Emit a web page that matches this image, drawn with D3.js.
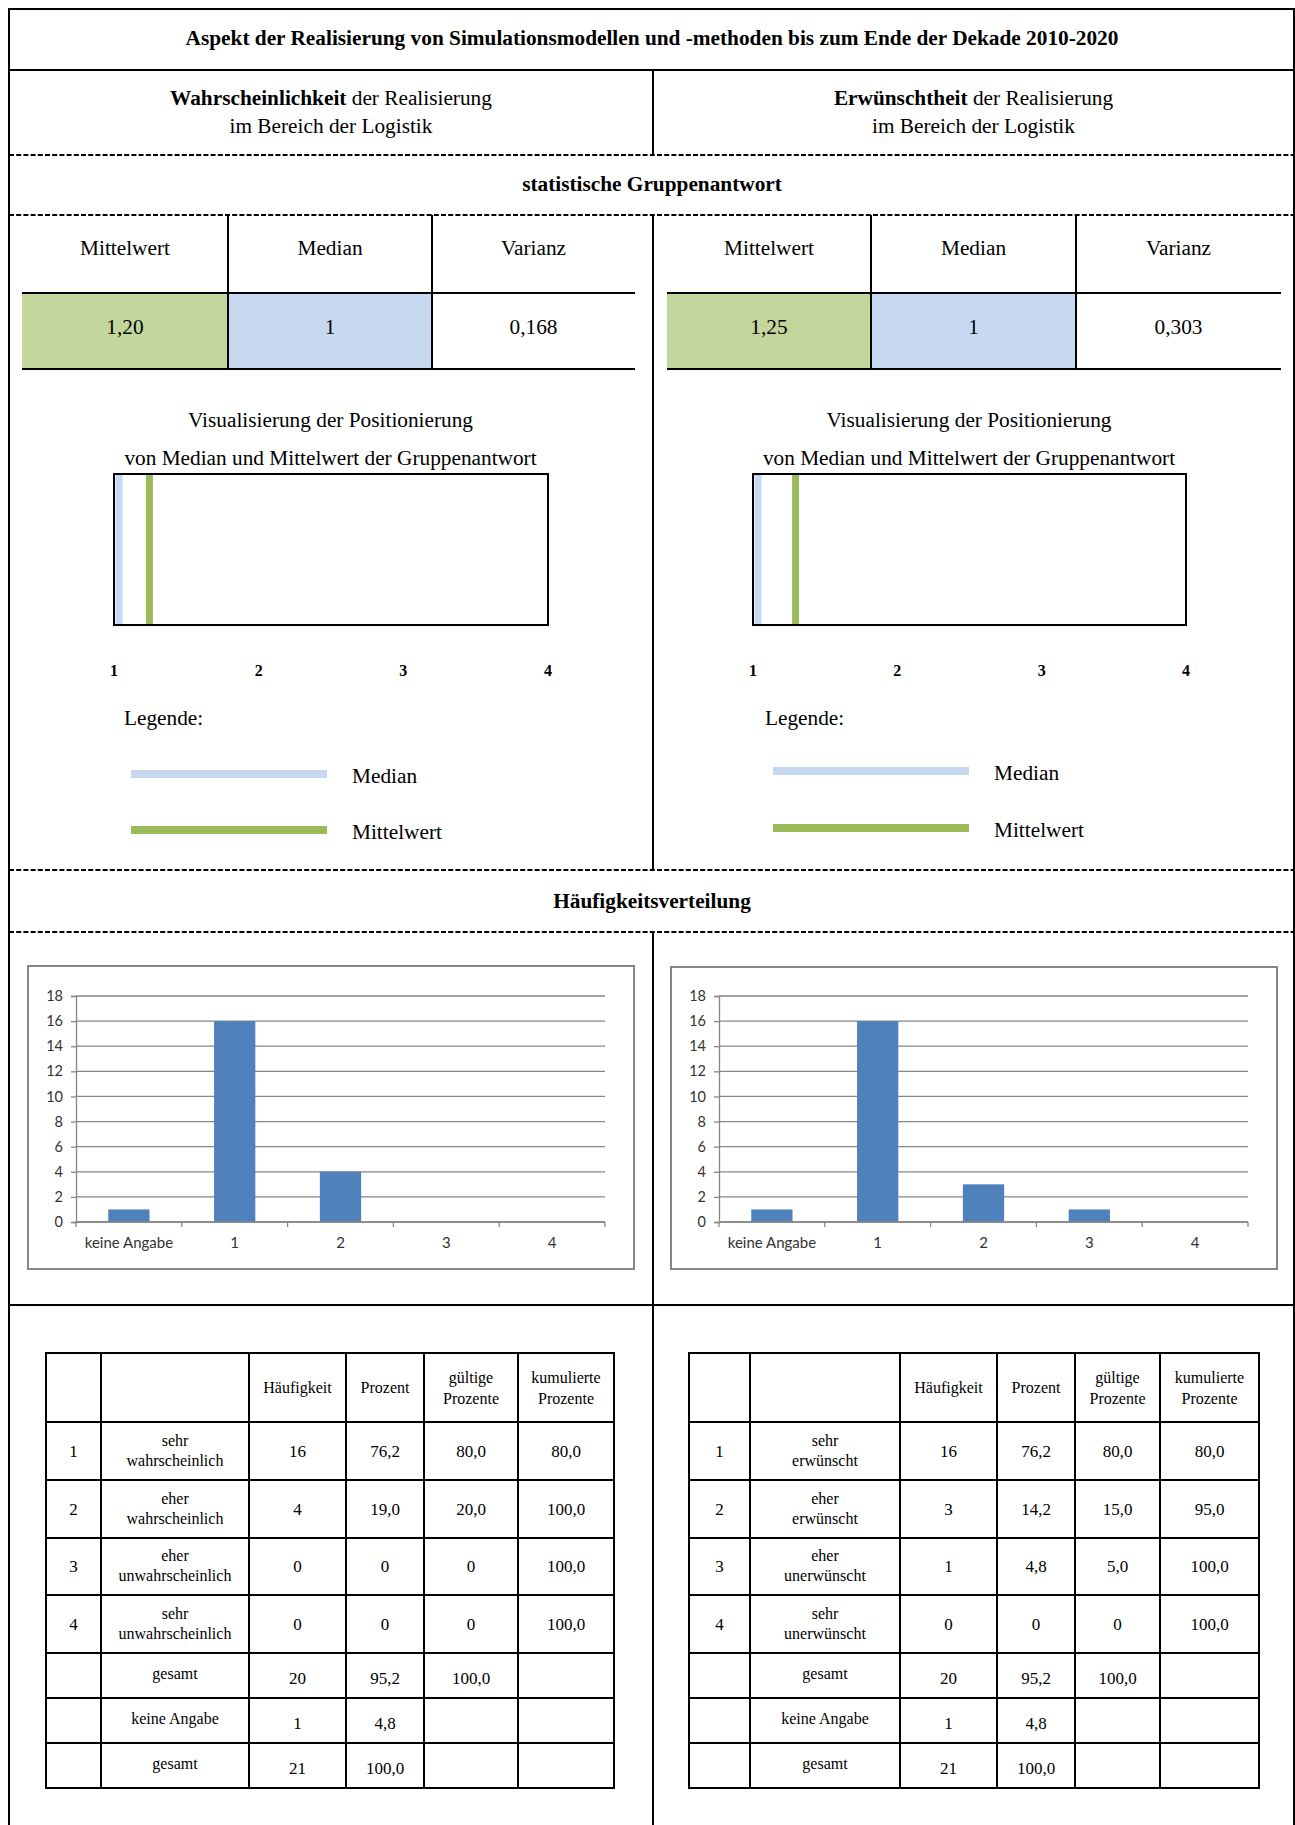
<!DOCTYPE html>
<html>
<head>
<meta charset="utf-8">
<script src="https://cdn.jsdelivr.net/npm/d3@7"></script>
<style>
  html, body { margin: 0; padding: 0; background: #fff; }
  svg { display: block; }
  .serif { font-family: "Liberation Serif", "Times New Roman", serif; fill: #000; }
  .chartfont { font-family: Lato, "Liberation Sans", sans-serif; fill: #333; }
</style>
</head>
<body>
<script>
// ---------------- DATA ----------------
const mainTitle = "Aspekt der Realisierung von Simulationsmodellen und -methoden bis zum Ende der Dekade 2010-2020";
const panelBold = ["Wahrscheinlichkeit", "Erwünschtheit"];
const panelRest = " der Realisierung";
const panelSub = "im Bereich der Logistik";
const sectionTitles = ["statistische Gruppenantwort", "Häufigkeitsverteilung"];

const statsHeaders = ["Mittelwert", "Median", "Varianz"];
const statsLeft = ["1,20", "1", "0,168"];
const statsRight = ["1,25", "1", "0,303"];

const vizTitle1 = "Visualisierung der Positionierung";
const vizTitle2 = "von Median und Mittelwert der Gruppenantwort";
const scaleTicks = [1, 2, 3, 4];
const medianValues = [1, 1];
const meanValues = [1.20, 1.25];
const legendLabels = ["Median", "Mittelwert"];

const freqCategories = ["keine Angabe", "1", "2", "3", "4"];
const freqLeft = [1, 16, 4, 0, 0];
const freqRight = [1, 16, 3, 1, 0];
const yTicks = [0, 2, 4, 6, 8, 10, 12, 14, 16, 18];

const tableHeaders = ["", "", "Häufigkeit", "Prozent", "gültige\nProzente", "kumulierte\nProzente"];
const rowCodes = ["1", "2", "3", "4", "", "", ""];
const labelsLeft = ["sehr\nwahrscheinlich", "eher\nwahrscheinlich", "eher\nunwahrscheinlich", "sehr\nunwahrscheinlich", "gesamt", "keine Angabe", "gesamt"];
const labelsRight = ["sehr\nerwünscht", "eher\nerwünscht", "eher\nunerwünscht", "sehr\nunerwünscht", "gesamt", "keine Angabe", "gesamt"];
const haeufLeft = ["16", "4", "0", "0", "20", "1", "21"];
const prozLeft = ["76,2", "19,0", "0", "0", "95,2", "4,8", "100,0"];
const gueltLeft = ["80,0", "20,0", "0", "0", "100,0", "", ""];
const kumLeft = ["80,0", "100,0", "100,0", "100,0", "", "", ""];
const haeufRight = ["16", "3", "1", "0", "20", "1", "21"];
const prozRight = ["76,2", "14,2", "4,8", "0", "95,2", "4,8", "100,0"];
const gueltRight = ["80,0", "15,0", "5,0", "0", "100,0", "", ""];
const kumRight = ["80,0", "95,0", "100,0", "100,0", "", "", ""];

// ---------------- LAYOUT ----------------
const W = 1295, H = 1825;
const L = 9, R = 1294, DIV = 653;
const FS = 21.3;
const GREEN = "#C3D69B", BLUE = "#C6D9F1", MEANC = "#9BBB59", MEDC = "#C6D9F1", BAR = "#4F81BD", GRID = "#868686";

const svg = d3.select("body").append("svg").attr("width", W).attr("height", H);

function line(x1, y1, x2, y2, opts = {}) {
  return svg.append("line").attr("x1", x1).attr("y1", y1).attr("x2", x2).attr("y2", y2)
    .attr("stroke", opts.color || "#000").attr("stroke-width", opts.w || 2)
    .attr("stroke-dasharray", opts.dash || null);
}
function text(x, y, s, size, opts = {}) {
  return svg.append("text").attr("class", opts.cls || "serif")
    .attr("x", x).attr("y", y).attr("dy", "0.35em")
    .attr("text-anchor", opts.anchor || "middle")
    .attr("font-size", size).attr("font-weight", opts.bold ? "bold" : null)
    .text(s);
}
function multiText(x, y, s, size, lh) {
  const parts = s.split("\n");
  const t = svg.append("text").attr("class", "serif").attr("text-anchor", "middle").attr("font-size", size);
  parts.forEach((p, i) => {
    t.append("tspan").attr("x", x).attr("y", y + (i - (parts.length - 1) / 2) * lh).attr("dy", "0.35em").text(p);
  });
}

// Outer frame and grid lines
line(L, 9, R, 9);
line(L, 8, L, H);
line(R, 8, R, H);
line(L, 70, R, 70);
[155, 215, 870, 932].forEach(y => line(L, y, R, y, { dash: "5,2.2" }));
line(L, 1305, R, 1305);
[[70, 155], [215, 870], [932, H]].forEach(([a, b]) => line(DIV, a, DIV, b));

// Titles
text(652, 38, mainTitle, FS, { bold: true });
const panelCx = [331, 973.5];
panelCx.forEach((cx, i) => {
  const t = svg.append("text").attr("class", "serif").attr("x", cx).attr("y", 98).attr("dy", "0.35em")
    .attr("text-anchor", "middle").attr("font-size", FS);
  t.append("tspan").attr("font-weight", "bold").text(panelBold[i]);
  t.append("tspan").text(panelRest);
  text(cx, 126, panelSub, FS);
});
text(652, 184, sectionTitles[0], FS, { bold: true });
text(652, 901, sectionTitles[1], FS, { bold: true });

// Stats tables
const statsCols = [[22, 228, 432, 635], [667, 871, 1076, 1281]];
const statsVals = [statsLeft, statsRight];
statsCols.forEach((cols, p) => {
  svg.append("rect").attr("x", cols[0]).attr("y", 293).attr("width", cols[1] - cols[0]).attr("height", 369 - 293).attr("fill", GREEN);
  svg.append("rect").attr("x", cols[1]).attr("y", 293).attr("width", cols[2] - cols[1]).attr("height", 369 - 293).attr("fill", BLUE);
  line(cols[0], 293, cols[3], 293);
  line(cols[0], 369, cols[3], 369);
  line(cols[1], 215, cols[1], 369);
  line(cols[2], 215, cols[2], 369);
  statsHeaders.forEach((h, i) => {
    const cx = (cols[i] + cols[i + 1]) / 2;
    text(cx, 248, h, FS);
    text(cx, 327, statsVals[p][i], FS);
  });
});

// Visualisation of positioning
const vizPanels = [
  { box: [114, 548], legX: 124, legLine: [131, 327], legText: 352, legY: [774, 830] },
  { box: [753, 1186], legX: 765, legLine: [773, 969], legText: 994, legY: [771, 828] }
];
vizPanels.forEach((vp, p) => {
  const cx = (vp.box[0] + vp.box[1]) / 2;
  text(cx - 0.5, 420, vizTitle1, FS);
  text(cx - 0.5, 458, vizTitle2, FS);
  const x = d3.scaleLinear().domain([1, 4]).range(vp.box);
  const top = 474, bot = 625;
  svg.append("rect").attr("x", x(medianValues[p]) + 1.5).attr("y", top).attr("width", 7).attr("height", bot - top).attr("fill", MEDC);
  svg.append("rect").attr("x", x(meanValues[p]) + 3).attr("y", top).attr("width", 7).attr("height", bot - top).attr("fill", MEANC);
  svg.append("rect").attr("x", vp.box[0]).attr("y", top).attr("width", vp.box[1] - vp.box[0]).attr("height", bot - top)
    .attr("fill", "none").attr("stroke", "#000").attr("stroke-width", 2);
  scaleTicks.forEach(v => text(x(v), 670, String(v), 16, { bold: true }));
  text(vp.legX, 718, "Legende:", FS, { anchor: "start" });
  [MEDC, MEANC].forEach((c, i) => {
    svg.append("rect").attr("x", vp.legLine[0]).attr("y", vp.legY[i] - 4).attr("width", vp.legLine[1] - vp.legLine[0]).attr("height", 8).attr("fill", c);
    text(vp.legText, vp.legY[i] + 2, legendLabels[i], FS, { anchor: "start" });
  });
});

// Bar charts
const chartPanels = [
  { box: [28, 966, 606, 303], plot: [76, 605], data: freqLeft },
  { box: [671, 967, 606, 302], plot: [719, 1248], data: freqRight }
];
chartPanels.forEach(cp => {
  svg.append("rect").attr("x", cp.box[0]).attr("y", cp.box[1]).attr("width", cp.box[2]).attr("height", cp.box[3])
    .attr("fill", "#fff").attr("stroke", GRID).attr("stroke-width", 2);
  const x = d3.scaleBand().domain(freqCategories).range(cp.plot).padding(0);
  const y = d3.scaleLinear().domain([0, 18]).range([1222, 996]);
  const g = svg.append("g");
  g.selectAll("line.grid").data(yTicks).join("line")
    .attr("x1", cp.plot[0]).attr("x2", cp.plot[1]).attr("y1", d => y(d)).attr("y2", d => y(d))
    .attr("stroke", GRID).attr("stroke-width", 1.3);
  const ya = g.append("g").attr("transform", `translate(${cp.plot[0]},0)`)
    .call(d3.axisLeft(y).tickValues(yTicks).tickSize(5).tickPadding(8));
  ya.attr("font-family", null).attr("font-size", null);
  ya.select(".domain").attr("stroke", GRID).attr("stroke-width", 1.3);
  ya.selectAll(".tick line").attr("stroke", GRID).attr("stroke-width", 1.3);
  ya.selectAll(".tick text").attr("class", "chartfont").attr("font-size", 14.5).attr("fill", "#333");
  const bw = x.bandwidth();
  g.selectAll("rect.bar").data(cp.data).join("rect")
    .attr("x", (d, i) => x(freqCategories[i]) + bw * 0.305)
    .attr("width", bw * 0.39)
    .attr("y", d => y(d)).attr("height", d => y(0) - y(d))
    .attr("fill", BAR);
  const bounds = freqCategories.map(c => x(c)).concat([cp.plot[1]]);
  g.selectAll("line.xt").data(bounds).join("line")
    .attr("x1", d => d).attr("x2", d => d).attr("y1", y(0)).attr("y2", y(0) + 5)
    .attr("stroke", GRID).attr("stroke-width", 1.3);
  g.append("line").attr("x1", cp.plot[0]).attr("x2", cp.plot[1]).attr("y1", y(0)).attr("y2", y(0))
    .attr("stroke", GRID).attr("stroke-width", 1.3);
  g.selectAll("text.xl").data(freqCategories).join("text")
    .attr("class", "chartfont").attr("font-size", 15).attr("text-anchor", "middle")
    .attr("x", d => x(d) + bw / 2).attr("y", 1243).attr("dy", "0.35em").text(d => d);
});

// Frequency tables
const tableRows = [1353, 1422, 1480, 1538, 1595, 1653, 1698, 1743, 1788];
const tablePanels = [
  { cols: [46, 101, 249, 346, 424, 518, 614], labels: labelsLeft, cols2: [haeufLeft, prozLeft, gueltLeft, kumLeft] },
  { cols: [689, 750, 900, 997, 1075, 1160, 1259], labels: labelsRight, cols2: [haeufRight, prozRight, gueltRight, kumRight] }
];
tablePanels.forEach(tp => {
  const c = tp.cols;
  tableRows.forEach(y => line(c[0] - 1, y, c[c.length - 1] + 1, y));
  c.forEach(x => line(x, tableRows[0], x, tableRows[tableRows.length - 1]));
  const cx = i => (c[i] + c[i + 1]) / 2;
  const ry = r => (tableRows[r] + tableRows[r + 1]) / 2;
  tableHeaders.forEach((h, i) => { if (h) multiText(cx(i), ry(0), h, 16, 21); });
  rowCodes.forEach((s, r) => { if (s) text(cx(0), ry(r + 1), s, 17); });
  tp.labels.forEach((s, r) => {
    const single = !s.includes("\n");
    multiText(cx(1), ry(r + 1) - (single ? 2 : 1), s, 16, 20);
  });
  tp.cols2.forEach((arr, k) => {
    arr.forEach((s, r) => { if (s) text(cx(k + 2), ry(r + 1) + (r >= 4 ? 3 : 0), s, 17); });
  });
});
</script>
</body>
</html>
